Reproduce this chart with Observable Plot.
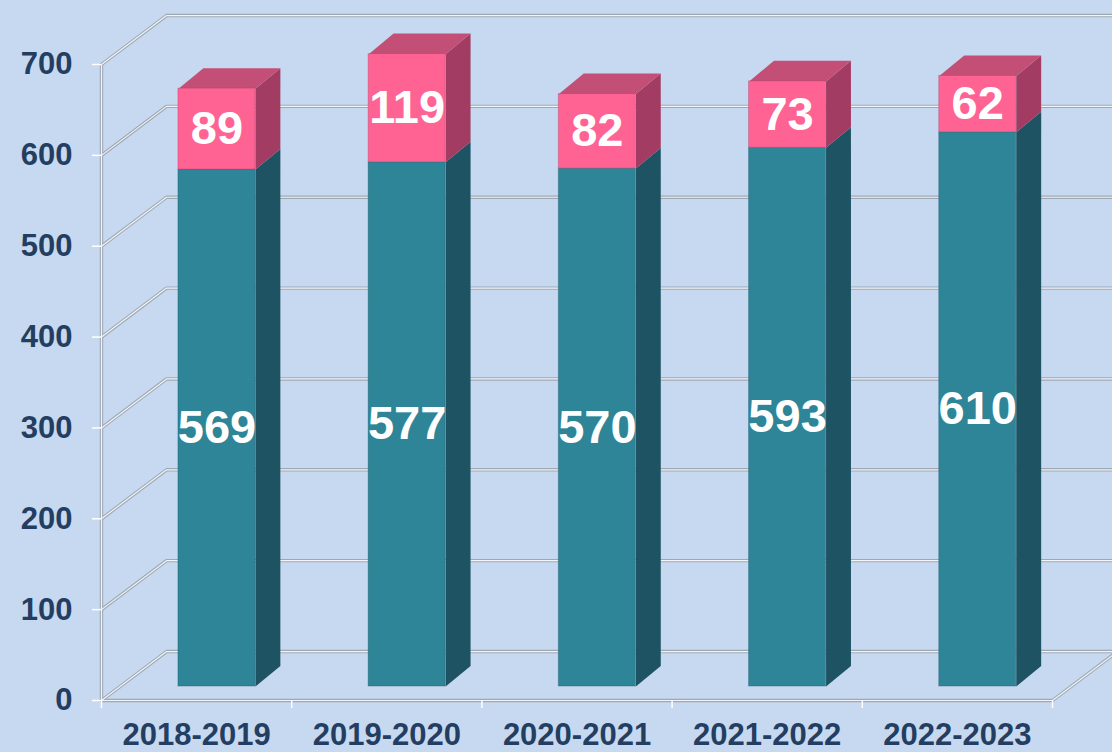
<!DOCTYPE html>
<html>
<head>
<meta charset="utf-8">
<script src="https://cdn.jsdelivr.net/npm/d3@7"></script>
<script src="https://cdn.jsdelivr.net/npm/@observablehq/plot@0.6"></script>
<style>
  html, body { margin: 0; padding: 0; background: #c6d9f0; }
  #chart svg { display: block; background: transparent; }
</style>
</head>
<body>
<div id="chart"></div>
<script>
// ---- data ----
const years = ["2018-2019", "2019-2020", "2020-2021", "2021-2022", "2022-2023"];
const lowerValues = [569, 577, 570, 593, 610];   // teal segment
const upperValues = [89, 119, 82, 73, 62];       // pink segment
const yTicks = [0, 100, 200, 300, 400, 500, 600, 700];

// ---- colours ----
const navy = "#243e62";
const tealFront = "#2e8598", tealSide = "#1e5363";
const pinkFront = "#ff6394", pinkSide = "#a33c63", pinkTop = "#c34e76";

// ---- 3D geometry (in data units) ----
const N = years.length;
const WX = 0.342, WY = 53.9;   // back-wall depth
const FX = 0.107, FY = 15.4;   // bar front plane offset
const DX = 0.131, DY = 22.6;   // bar depth
const HW = 0.2024;             // bar half width

// segments
const segs = [];
years.forEach((yr, i) => {
  segs.push({i, y0: 0, y1: lowerValues[i], v: lowerValues[i], front: tealFront, side: tealSide});
  segs.push({i, y0: lowerValues[i], y1: lowerValues[i] + upperValues[i], v: upperValues[i], front: pinkFront, side: pinkSide});
});
const xl = i => i + 0.5 - HW + FX;
const xr = i => i + 0.5 + HW + FX;

const sidePts = segs.flatMap((s, k) => [
  {id: k, x: xr(s.i), y: s.y0 + FY, c: s.side},
  {id: k, x: xr(s.i) + DX, y: s.y0 + FY + DY, c: s.side},
  {id: k, x: xr(s.i) + DX, y: s.y1 + FY + DY, c: s.side},
  {id: k, x: xr(s.i), y: s.y1 + FY, c: s.side}
]);
const topPts = years.flatMap((yr, i) => {
  const t = lowerValues[i] + upperValues[i] + FY;
  return [
    {id: i, x: xl(i), y: t},
    {id: i, x: xr(i), y: t},
    {id: i, x: xr(i) + DX, y: t + DY},
    {id: i, x: xl(i) + DX, y: t + DY}
  ];
});

// grid / walls
const gridPts = yTicks.flatMap(v => [
  {id: "g" + v, x: 0, y: v},
  {id: "g" + v, x: WX, y: v + WY},
  {id: "g" + v, x: N + WX + 0.1, y: v + WY}
]);
const framePts = [
  {id: "axis", x: 0, y: yTicks[yTicks.length - 1]},
  {id: "axis", x: 0, y: 0},
  {id: "axis", x: N, y: 0},
  {id: "axis", x: N + WX, y: WY}
];
const linePts = gridPts.concat(framePts);

const font = "'Liberation Sans', Arial, Helvetica, sans-serif";

const chart = Plot.plot({
  width: 1112,
  height: 752,
  marginLeft: 101,
  marginRight: 60,
  marginTop: 64,
  marginBottom: 52,
  style: {fontFamily: font, background: "transparent", overflow: "visible"},
  x: {type: "linear", domain: [0, N]},
  y: {type: "linear", domain: [0, 700]},
  color: {type: "identity"},
  marks: [
    // grid and frame lines (double line: grey + white)
    Plot.line(linePts, {x: "x", y: "y", z: "id", stroke: "#9ea8b5", strokeWidth: 3.4}),
    Plot.line(linePts, {x: "x", y: "y", z: "id", stroke: "#f2f4f7", strokeWidth: 1.2}),
    // y axis
    Plot.axisY({ticks: yTicks, tickSize: 9, tickPadding: 20, stroke: "white", strokeWidth: 1.5,
      fill: navy, fontSize: 31, fontWeight: "bold", label: null}),
    // x boundary ticks
    Plot.axisX({ticks: d3.range(N + 1), tickSize: 8, tickFormat: () => "", stroke: "white", strokeWidth: 1.5, label: null}),
    // x labels
    Plot.axisX({ticks: years.map((d, i) => i + 0.5), tickSize: 0, tickPadding: 22,
      tickFormat: d => years[Math.floor(d)], fill: navy, fontSize: 31, fontWeight: "bold", label: null}),
    // bar side faces
    Plot.line(sidePts, {x: "x", y: "y", z: "id", fill: "c", stroke: "none"}),
    // bar top faces
    Plot.line(topPts, {x: "x", y: "y", z: "id", fill: pinkTop, stroke: "none"}),
    // bar front faces
    Plot.rect(segs, {x1: d => xl(d.i), x2: d => xr(d.i), y1: d => d.y0 + FY, y2: d => d.y1 + FY,
      fill: "front", stroke: d => d.side, strokeOpacity: 0.35, strokeWidth: 1}),
    // value labels
    Plot.text(segs, {x: d => d.i + 0.5 + FX, y: d => (d.y0 + d.y1) / 2 + FY, text: d => String(d.v),
      fill: "white", fontSize: 47, fontWeight: "bold"})
  ]
});
document.getElementById("chart").appendChild(chart);
</script>
</body>
</html>
